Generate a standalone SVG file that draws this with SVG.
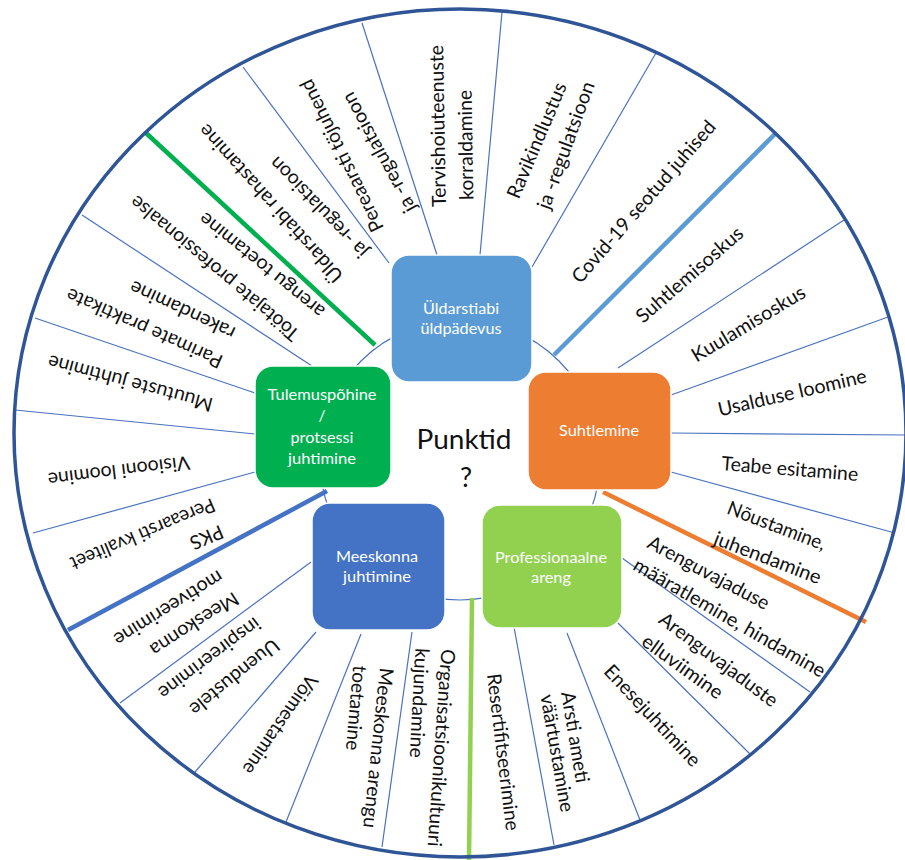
<svg xmlns="http://www.w3.org/2000/svg" width="905" height="860" viewBox="0 0 905 860">
<style>
.thin{stroke:#4a72c0;stroke-width:1.2;fill:none}
.thick{stroke-width:4.5;fill:none}
.lbl{font-family:Lato,"Liberation Sans",sans-serif;font-size:19.5px;fill:#111;text-anchor:middle;dominant-baseline:central}
.box{stroke:#fff;stroke-width:1.5}
.bt{font-family:Lato,"Liberation Sans",sans-serif;font-size:15.5px;fill:#fff;text-anchor:middle;dominant-baseline:central}
.ctr{font-family:Lato,"Liberation Sans",sans-serif;font-size:27px;fill:#111;text-anchor:middle}
</style>
<rect width="905" height="860" fill="#fff"/>
<g id="connectors">
  <circle cx="460" cy="460" r="140" class="thin"/>
  <line class="thin" x1="243" y1="67" x2="389" y2="263"/>
  <line class="thin" x1="362" y1="23" x2="437" y2="255"/>
  <line class="thin" x1="502" y1="12" x2="480" y2="255"/>
  <line class="thin" x1="656" y1="53" x2="532" y2="267"/>
  <line class="thin" x1="844" y1="220" x2="618" y2="368"/>
  <line class="thin" x1="888" y1="317" x2="671" y2="395"/>
  <line class="thin" x1="905" y1="435" x2="671" y2="433"/>
  <line class="thin" x1="895" y1="533" x2="671" y2="472"/>
  <line class="thin" x1="810" y1="692" x2="622" y2="558"/>
  <line class="thin" x1="751" y1="755" x2="618" y2="623"/>
  <line class="thin" x1="640" y1="820" x2="567" y2="633"/>
  <line class="thin" x1="554" y1="845" x2="514" y2="627"/>
  <line class="thin" x1="382" y1="847" x2="412" y2="632"/>
  <line class="thin" x1="286" y1="822" x2="361" y2="634"/>
  <line class="thin" x1="195" y1="772" x2="316" y2="632"/>
  <line class="thin" x1="120" y1="703" x2="311" y2="562"/>
  <line class="thin" x1="33" y1="533" x2="255" y2="472"/>
  <line class="thin" x1="15" y1="410" x2="255" y2="434"/>
  <line class="thin" x1="35" y1="318" x2="255" y2="393"/>
  <line class="thin" x1="82" y1="215" x2="312" y2="366"/>
  <line class="thick" stroke="#00b050" x1="146" y1="133" x2="375" y2="345"/>
  <line class="thick" stroke="#5b9bd5" x1="776" y1="133" x2="554" y2="355"/>
  <line class="thick" stroke="#ed7d31" x1="603" y1="492" x2="866" y2="622"/>
  <line class="thick" stroke="#92d050" x1="472" y1="598" x2="469" y2="860"/>
  <line class="thick" stroke="#4472c4" x1="68" y1="630" x2="327" y2="491"/>
  <ellipse cx="460" cy="433" rx="446" ry="424" fill="none" stroke="#2f5597" stroke-width="3.5"/>
</g>
<g id="labels">
  <g id="l-tervis">
    <text class="lbl" transform="translate(437,126) rotate(-91)" textLength="162" lengthAdjust="spacingAndGlyphs">Tervishoiuteenuste</text>
    <text class="lbl" transform="translate(465,145) rotate(-91)" textLength="110" lengthAdjust="spacingAndGlyphs">korraldamine</text>
  </g>
  <g id="l-ravi">
    <text class="lbl" transform="translate(536,140) rotate(-67)" textLength="124" lengthAdjust="spacingAndGlyphs">Ravikindlustus</text>
    <text class="lbl" transform="translate(565,145) rotate(-70)" textLength="134" lengthAdjust="spacingAndGlyphs">ja -regulatsioon</text>
  </g>
  <g id="l-covid">
    <text class="lbl" transform="translate(643,201) rotate(-49)" textLength="208" lengthAdjust="spacingAndGlyphs">Covid-19 seotud juhised</text>
  </g>
  <g id="l-suhtlemisoskus">
    <text class="lbl" transform="translate(689,274) rotate(-41)" textLength="135" lengthAdjust="spacingAndGlyphs">Suhtlemisoskus</text>
  </g>
  <g id="l-kuulamisoskus">
    <text class="lbl" transform="translate(748,323) rotate(-31)" textLength="129" lengthAdjust="spacingAndGlyphs">Kuulamisoskus</text>
  </g>
  <g id="l-usaldus">
    <text class="lbl" transform="translate(792,392) rotate(-13)" textLength="152" lengthAdjust="spacingAndGlyphs">Usalduse loomine</text>
  </g>
  <g id="l-teabe">
    <text class="lbl" transform="translate(790,468) rotate(4.6)" textLength="137" lengthAdjust="spacingAndGlyphs">Teabe esitamine</text>
  </g>
  <g id="l-noustamine">
    <text class="lbl" transform="translate(777,525) rotate(21)" textLength="104" lengthAdjust="spacingAndGlyphs">Nõustamine,</text>
    <text class="lbl" transform="translate(768,557) rotate(21)" textLength="113" lengthAdjust="spacingAndGlyphs">juhendamine</text>
  </g>
  <g id="l-arenguvajaduse">
    <text class="lbl" transform="translate(709,572) rotate(28)" textLength="135" lengthAdjust="spacingAndGlyphs">Arenguvajaduse</text>
    <text class="lbl" transform="translate(730,617) rotate(30)" textLength="218" lengthAdjust="spacingAndGlyphs">määratlemine, hindamine</text>
  </g>
  <g id="l-arenguvajaduste">
    <text class="lbl" transform="translate(719,659) rotate(37)" textLength="143" lengthAdjust="spacingAndGlyphs">Arenguvajaduste</text>
    <text class="lbl" transform="translate(683,666) rotate(36)" textLength="95" lengthAdjust="spacingAndGlyphs">elluviimine</text>
  </g>
  <g id="l-enesejuhtimine">
    <text class="lbl" transform="translate(653,715) rotate(47)" textLength="131" lengthAdjust="spacingAndGlyphs">Enesejuhtimine</text>
  </g>
  <g id="l-arsti">
    <text class="lbl" transform="translate(576,737) rotate(80.5)" textLength="92" lengthAdjust="spacingAndGlyphs">Arsti ameti</text>
    <text class="lbl" transform="translate(558,753) rotate(80)" textLength="119" lengthAdjust="spacingAndGlyphs">väärtustamine</text>
  </g>
  <g id="l-resert">
    <text class="lbl" transform="translate(504,752) rotate(83)" textLength="158" lengthAdjust="spacingAndGlyphs">Resertifitseerimine</text>
  </g>
  <g id="l-org">
    <text class="lbl" transform="translate(442,748) rotate(94)" textLength="198" lengthAdjust="spacingAndGlyphs">Organisatsioonikultuuri</text>
    <text class="lbl" transform="translate(420,703) rotate(93)" textLength="110" lengthAdjust="spacingAndGlyphs">kujundamine</text>
  </g>
  <g id="l-meeskonna-areng">
    <text class="lbl" transform="translate(379,748) rotate(96)" textLength="161" lengthAdjust="spacingAndGlyphs">Meeskonna arengu</text>
    <text class="lbl" transform="translate(357,708) rotate(95)" textLength="85" lengthAdjust="spacingAndGlyphs">toetamine</text>
  </g>
  <g id="l-voimestamine">
    <text class="lbl" transform="translate(281,725) rotate(124.5)" textLength="116" lengthAdjust="spacingAndGlyphs">Võimestamine</text>
  </g>
  <g id="l-uuendustele">
    <text class="lbl" transform="translate(235,678) rotate(141)" textLength="109" lengthAdjust="spacingAndGlyphs">Uuendustele</text>
    <text class="lbl" transform="translate(210,659) rotate(143)" textLength="122" lengthAdjust="spacingAndGlyphs">inspireerimine</text>
  </g>
  <g id="l-motiveerimine">
    <text class="lbl" transform="translate(195,625) rotate(147)" textLength="101" lengthAdjust="spacingAndGlyphs">Meeskonna</text>
    <text class="lbl" transform="translate(169,609) rotate(148)" textLength="125" lengthAdjust="spacingAndGlyphs">motiveerimine</text>
  </g>
  <g id="l-pks">
    <text class="lbl" transform="translate(207,538) rotate(157)" textLength="34" lengthAdjust="spacingAndGlyphs">PKS</text>
    <text class="lbl" transform="translate(143,535) rotate(157)" textLength="155" lengthAdjust="spacingAndGlyphs">Pereaarsti kvaliteet</text>
  </g>
  <g id="l-visioon">
    <text class="lbl" transform="translate(119,472) rotate(173)" textLength="143" lengthAdjust="spacingAndGlyphs">Visiooni loomine</text>
  </g>
  <g id="l-muutused">
    <text class="lbl" transform="translate(130,384) rotate(-165)" textLength="170" lengthAdjust="spacingAndGlyphs">Muutuste juhtimine</text>
  </g>
  <g id="l-parimad">
    <text class="lbl" transform="translate(144,329) rotate(-156)" textLength="169" lengthAdjust="spacingAndGlyphs">Parimate praktikate</text>
    <text class="lbl" transform="translate(182,311) rotate(-155)" textLength="114" lengthAdjust="spacingAndGlyphs">rakendamine</text>
  </g>
  <g id="l-tootajad">
    <text class="lbl" transform="translate(214,269) rotate(-140)" textLength="214" lengthAdjust="spacingAndGlyphs">Töötajate professionaalse</text>
    <text class="lbl" transform="translate(261,266) rotate(-141)" textLength="155" lengthAdjust="spacingAndGlyphs">arengu toetamine</text>
  </g>
  <g id="l-rahastamine">
    <text class="lbl" transform="translate(270,204) rotate(-132)" textLength="205" lengthAdjust="spacingAndGlyphs">Üldarstiabi rahastamine</text>
    <text class="lbl" transform="translate(318,208) rotate(-134)" textLength="132" lengthAdjust="spacingAndGlyphs">ja -regulatsioon</text>
  </g>
  <g id="l-tojuhend">
    <text class="lbl" transform="translate(341,156) rotate(-116)" textLength="167" lengthAdjust="spacingAndGlyphs">Pereaarsti töjuhend</text>
    <text class="lbl" transform="translate(378,153) rotate(-118.5)" textLength="134" lengthAdjust="spacingAndGlyphs">ja -regulatsioon</text>
  </g>
</g>
<g id="node-uldarstiabi">
  <rect class="box" x="391" y="255" width="141" height="127" rx="18" fill="#5b9bd5"/>
  <text class="bt" x="461" y="308" textLength="76" lengthAdjust="spacingAndGlyphs">Üldarstiabi</text>
  <text class="bt" x="461" y="328" textLength="81" lengthAdjust="spacingAndGlyphs">üldpädevus</text>
</g>
<g id="node-suhtlemine">
  <rect class="box" x="528" y="372" width="143" height="118" rx="18" fill="#ed7d31"/>
  <text class="bt" x="599" y="430" textLength="80" lengthAdjust="spacingAndGlyphs">Suhtlemine</text>
</g>
<g id="node-professionaalne">
  <rect class="box" x="482" y="505" width="140" height="123" rx="18" fill="#92d050"/>
  <text class="bt" x="551" y="557" textLength="112" lengthAdjust="spacingAndGlyphs">Professionaalne</text>
  <text class="bt" x="551" y="577" textLength="40" lengthAdjust="spacingAndGlyphs">areng</text>
</g>
<g id="node-meeskonna">
  <rect class="box" x="312" y="503" width="133" height="127" rx="18" fill="#4472c4"/>
  <text class="bt" x="377" y="556" textLength="82" lengthAdjust="spacingAndGlyphs">Meeskonna</text>
  <text class="bt" x="377" y="576" textLength="68" lengthAdjust="spacingAndGlyphs">juhtimine</text>
</g>
<g id="node-tulemus">
  <rect class="box" x="255" y="366" width="136" height="122" rx="18" fill="#00b050"/>
  <text class="bt" x="322" y="394" textLength="109" lengthAdjust="spacingAndGlyphs">Tulemuspõhine</text>
  <text class="bt" x="322" y="415">/</text>
  <text class="bt" x="322" y="437" textLength="63" lengthAdjust="spacingAndGlyphs">protsessi</text>
  <text class="bt" x="322" y="458" textLength="68" lengthAdjust="spacingAndGlyphs">juhtimine</text>
</g>
<g id="node-punktid">
  <text class="ctr" x="464" y="449" textLength="95" lengthAdjust="spacingAndGlyphs">Punktid</text>
  <text class="ctr" x="466" y="487">?</text>
</g>
</svg>
